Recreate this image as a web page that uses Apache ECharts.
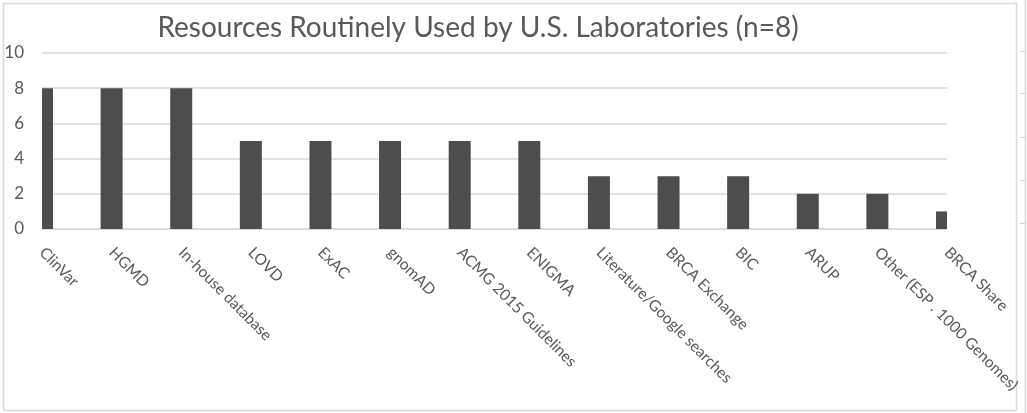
<!DOCTYPE html>
<html>
<head>
<meta charset="utf-8">
<script src="https://cdn.jsdelivr.net/npm/echarts@6/dist/echarts.min.js"></script>
<style>
html,body{margin:0;padding:0;background:#fff;}
#chart{width:1027px;height:413px;}
</style>
</head>
<body>
<div id="chart"></div>
<script>
const titleText = 'Resources Routinely Used by U.S. Laboratories (n=8)';
const categories = ['ClinVar','HGMD','In-house database','LOVD','ExAC','gnomAD','ACMG 2015 Guidelines','ENIGMA','Literature/Google searches','BRCA Exchange','BIC','ARUP','Other (ESP . 1000 Genomes)','BRCA Share'];
const counts = [8,8,8,5,5,5,5,5,3,3,3,2,2,1];
const yTicks = [0,2,4,6,8,10];

const chart = echarts.init(document.getElementById('chart'));
const font = 'Lato, "Open Sans", sans-serif';
const rulerMarks = [51, 93, 137, 180, 223].map(y => ({
  type: 'line', shape: {x1: 1020, y1: y + 0.5, x2: 1025, y2: y + 0.5},
  style: {stroke: '#cfcfcf', lineWidth: 1}, silent: true
}));
chart.setOption({
  animation: false,
  backgroundColor: '#fff',
  grid: {left: 42, right: 80, top: 53, bottom: 184},
  graphic: [
    {type: 'rect', shape: {x: 3.5, y: 3.5, width: 1013, height: 407}, style: {fill: 'none', stroke: '#d9d9d9', lineWidth: 1.5}, silent: true},
    {type: 'line', shape: {x1: 1025.5, y1: 0, x2: 1025.5, y2: 413}, style: {stroke: '#d9d9d9', lineWidth: 1.5}, silent: true},
    ...rulerMarks,
    {type: 'text', x: 478, y: 28, style: {text: titleText, font: '28px ' + font, fill: '#595959', textAlign: 'center', textVerticalAlign: 'middle'}}
  ],
  xAxis: {
    type: 'category',
    data: categories,
    boundaryGap: false,
    axisLine: {show: true, lineStyle: {color: '#d9d9d9', width: 1.5}},
    axisTick: {show: false},
    splitLine: {show: false},
    axisLabel: {rotate: -45, interval: 0, margin: 21, color: '#595959', fontSize: 15.5, fontFamily: font}
  },
  yAxis: {
    type: 'value',
    min: 0, max: 10, interval: 2,
    axisLine: {show: false},
    axisTick: {show: false},
    splitLine: {lineStyle: {color: '#d9d9d9', width: 1.5}},
    axisLabel: {margin: 18, color: '#595959', fontSize: 17, fontFamily: font,
      formatter: v => yTicks.includes(v) ? String(v) : ''}
  },
  series: [{
    type: 'custom',
    data: counts.map((v, i) => [i, v]),
    encode: {x: 0, y: 1},
    renderItem: function (params, api) {
      const top = api.coord([api.value(0), api.value(1)]);
      const base = api.coord([api.value(0), 0]);
      const w = api.size([1, 0])[0] * 0.316;
      const cs = params.coordSys;
      const rect = echarts.graphic.clipRectByRect(
        {x: top[0] - w / 2, y: top[1], width: w, height: base[1] - top[1]},
        {x: cs.x, y: cs.y, width: cs.width, height: cs.height}
      );
      return rect && {type: 'rect', shape: rect, style: {fill: '#4d4d4d'}};
    }
  }]
});
</script>
</body>
</html>
